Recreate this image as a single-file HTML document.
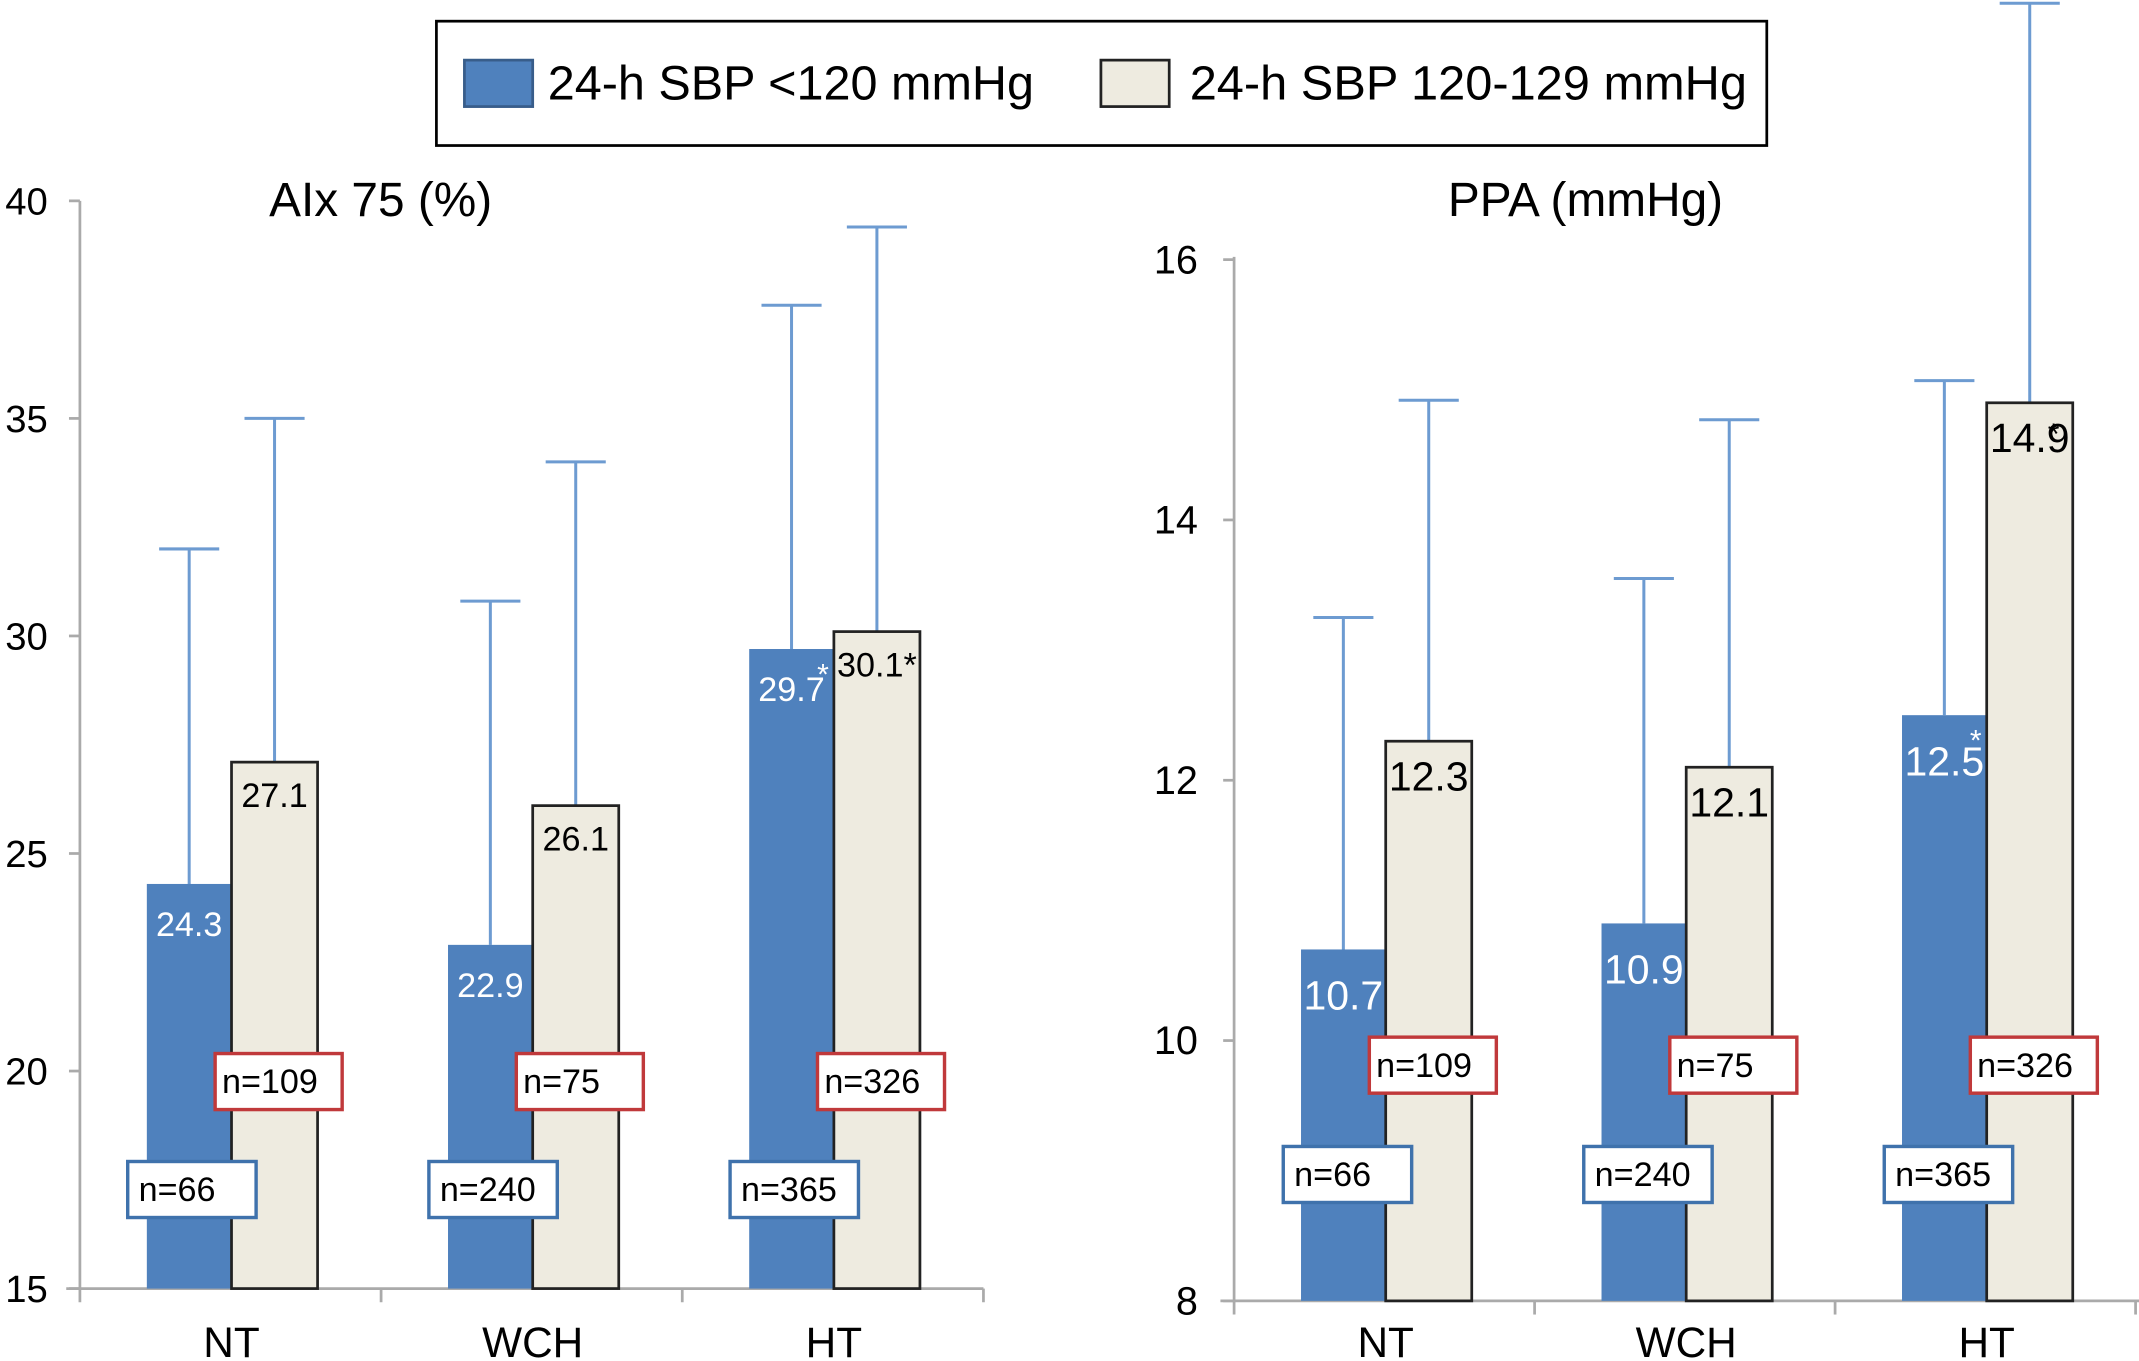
<!DOCTYPE html>
<html><head><meta charset="utf-8"><style>
html,body{margin:0;padding:0;background:#fff;}
svg{display:block;font-family:"Liberation Sans",Arial,sans-serif;}
</style></head><body>
<svg id="chart" width="2139" height="1361" viewBox="0 0 1566 996" preserveAspectRatio="none" xmlns="http://www.w3.org/2000/svg">
<g>
<rect x="319.5" y="15.5" width="974" height="91" fill="#fff" stroke="#000" stroke-width="2"/>
<rect x="340" y="44" width="50" height="34" fill="#4f81bd" stroke="#385d8a" stroke-width="2"/>
<text x="401" y="73" font-size="35" textLength="356" lengthAdjust="spacingAndGlyphs">24-h SBP &lt;120 mmHg</text>
<rect x="806" y="44" width="50" height="34" fill="#eeebe0" stroke="#222" stroke-width="2"/>
<text x="871" y="73" font-size="35" textLength="408" lengthAdjust="spacingAndGlyphs">24-h SBP 120-129 mmHg</text>
</g>
<g id="left"></g>
<g id="right"></g>
</svg>
<script>
const categories = ["NT","WCH","HT"];
const aixLow = [24.3, 22.9, 29.7];
const aixHigh = [27.1, 26.1, 30.1];
const aixLowErr = [32.0, 30.8, 37.6];
const aixHighErr = [35.0, 34.0, 39.4];
const aixLowStar = [false, false, true];
const aixHighStar = [false, false, true];
const aixTicks = [15, 20, 25, 30, 35, 40];
const ppaLow = [10.7, 10.9, 12.5];
const ppaHigh = [12.3, 12.1, 14.9];
const ppaLowErr = [13.25, 13.55, 15.07];
const ppaHighErr = [14.92, 14.77, 17.97];
const ppaLowStar = [false, false, true];
const ppaHighStar = [false, false, true];
const ppaTicks = [8, 10, 12, 14, 16];
const nLow = ["n=66", "n=240", "n=365"];
const nHigh = ["n=109", "n=75", "n=326"];

const NS = "http://www.w3.org/2000/svg";
function mk(parent, tag, attrs, txt) {
  const e = document.createElementNS(NS, tag);
  for (const k in attrs) e.setAttribute(k, attrs[k]);
  if (txt !== undefined) e.textContent = txt;
  parent.appendChild(e);
  return e;
}

function panel(g, cfg) {
  const y = v => cfg.y0 - (v - cfg.vmin) / (cfg.vmax - cfg.vmin) * (cfg.y0 - cfg.y1);
  const xs = i => cfg.ax + i * cfg.cw;
  let t = mk(g, "text", {x: cfg.titleX, y: cfg.titleY, "font-size": 35}, cfg.title);
  
  
  let a = mk(g, "line", {x1: cfg.ax, y1: cfg.axisTop, x2: cfg.ax, y2: cfg.y0 + 10, stroke: "#aaa", "stroke-width": 2});
  
  
  a = mk(g, "line", {x1: cfg.ax - 10, y1: cfg.y0, x2: cfg.axRight, y2: cfg.y0, stroke: "#aaa", "stroke-width": 2});
  
  
  cfg.ticks.forEach(v => {
    const l = mk(g, "line", {x1: cfg.ax - 8, y1: y(v), x2: cfg.ax, y2: y(v), stroke: "#aaa", "stroke-width": 2});
    
    
    const tx = mk(g, "text", {x: cfg.tickX, y: y(v) + 10, "font-size": cfg.tickFs, "text-anchor": "end"}, String(v));
    
    
  });
  for (let i = 1; i <= categories.length; i++) {
    const l = mk(g, "line", {x1: xs(i), y1: cfg.y0, x2: xs(i), y2: cfg.y0 + 10, stroke: "#aaa", "stroke-width": 2});
    
    
  }
  categories.forEach((c, i) => {
    const bx = xs(i) + 49, bw = 62, hx = bx + 62, hw = 63;
    [[bx + bw / 2, cfg.low[i], cfg.lowErr[i]], [hx + hw / 2, cfg.high[i], cfg.highErr[i]]].forEach(([cx, v, e], k) => {
      const l = mk(g, "line", {x1: cx, y1: y(e), x2: cx, y2: y(v), stroke: "#6d9bd1", "stroke-width": 2.2});
      
      
      const cp = mk(g, "line", {x1: cx - 22, y1: y(e), x2: cx + 22, y2: y(e), stroke: "#6d9bd1", "stroke-width": 2.2});
      
      
    });
    const b1 = mk(g, "rect", {x: bx, y: y(cfg.low[i]), width: bw, height: cfg.y0 - y(cfg.low[i]), fill: "#4f81bd"});
    
    
    const b2 = mk(g, "rect", {x: hx, y: y(cfg.high[i]), width: hw, height: cfg.y0 - y(cfg.high[i]), fill: "#eeebe0", stroke: "#222", "stroke-width": 2});
    
    
    const l1 = mk(g, "text", {x: bx + bw / 2, y: y(cfg.low[i]) + cfg.lowOff, "font-size": cfg.valFs, fill: "#fff", "text-anchor": "middle"}, cfg.low[i].toFixed(1));
    
    
    if (cfg.lowStar[i]) {
      const s = mk(g, "text", {x: bx + bw - 8, y: y(cfg.low[i]) + 26, "font-size": 22, fill: "#fff", "text-anchor": "middle"}, "*");
      
      
    }
    const l2 = mk(g, "text", {x: hx + hw / 2, y: y(cfg.high[i]) + cfg.highOff, "font-size": cfg.valFs, fill: "#000", "text-anchor": "middle"}, cfg.high[i].toFixed(1) + (cfg.highStar[i] && cfg.starInline ? "*" : ""));
    
    
    if (cfg.highStar[i] && !cfg.starInline) {
      const s = mk(g, "text", {x: hx + hw - 14, y: y(cfg.high[i]) + 30, "font-size": 22, fill: "#000", "text-anchor": "middle"}, "*");
      
      
    }
    const rb = mk(g, "rect", {x: bx + cfg.nHighDx, y: cfg.nHighY, width: 93, height: 41, fill: "#fff", stroke: "#c0393b", "stroke-width": 2.5});
    
    
    const rt = mk(g, "text", {x: bx + cfg.nHighDx + 5, y: cfg.nHighY + 29, "font-size": 25}, nHigh[i]);
    
    
    const lb = mk(g, "rect", {x: bx + cfg.nLowDx, y: cfg.nLowY, width: 94, height: 41, fill: "#fff", stroke: "#3f72ac", "stroke-width": 2.5});
    
    
    const lt = mk(g, "text", {x: bx + cfg.nLowDx + 8, y: cfg.nLowY + 29, "font-size": 25}, nLow[i]);
    
    
    const cl = mk(g, "text", {x: bx + 62, y: 993, "font-size": 31, "text-anchor": "middle"}, c);
    
    
  });
}

panel(document.getElementById('left'), {
  title: "AIx 75 (%)", titleX: 197, titleY: 158,
  ax: 58.5, axRight: 720, axisTop: 147, cw: 220.5, y0: 943, y1: 147, vmin: 15, vmax: 40,
  ticks: aixTicks, tickX: 35, tickFs: 28,
  low: aixLow, high: aixHigh, lowErr: aixLowErr, highErr: aixHighErr,
  lowStar: aixLowStar, highStar: aixHighStar, starInline: true,
  valFs: 25, lowOff: 38, highOff: 33, nHighDx: 50, nHighY: 771, nLowDx: -14, nLowY: 850
});
panel(document.getElementById('right'), {
  title: "PPA (mmHg)", titleX: 1060, titleY: 158,
  ax: 903.5, axRight: 1566, axisTop: 188, cw: 220, y0: 952, y1: 190, vmin: 8, vmax: 16,
  ticks: ppaTicks, tickX: 877, tickFs: 29,
  low: ppaLow, high: ppaHigh, lowErr: ppaLowErr, highErr: ppaHighErr,
  lowStar: ppaLowStar, highStar: ppaHighStar, starInline: false,
  valFs: 30, lowOff: 44, highOff: 36, nHighDx: 50, nHighY: 759, nLowDx: -13, nLowY: 839
});
</script>
</body></html>
